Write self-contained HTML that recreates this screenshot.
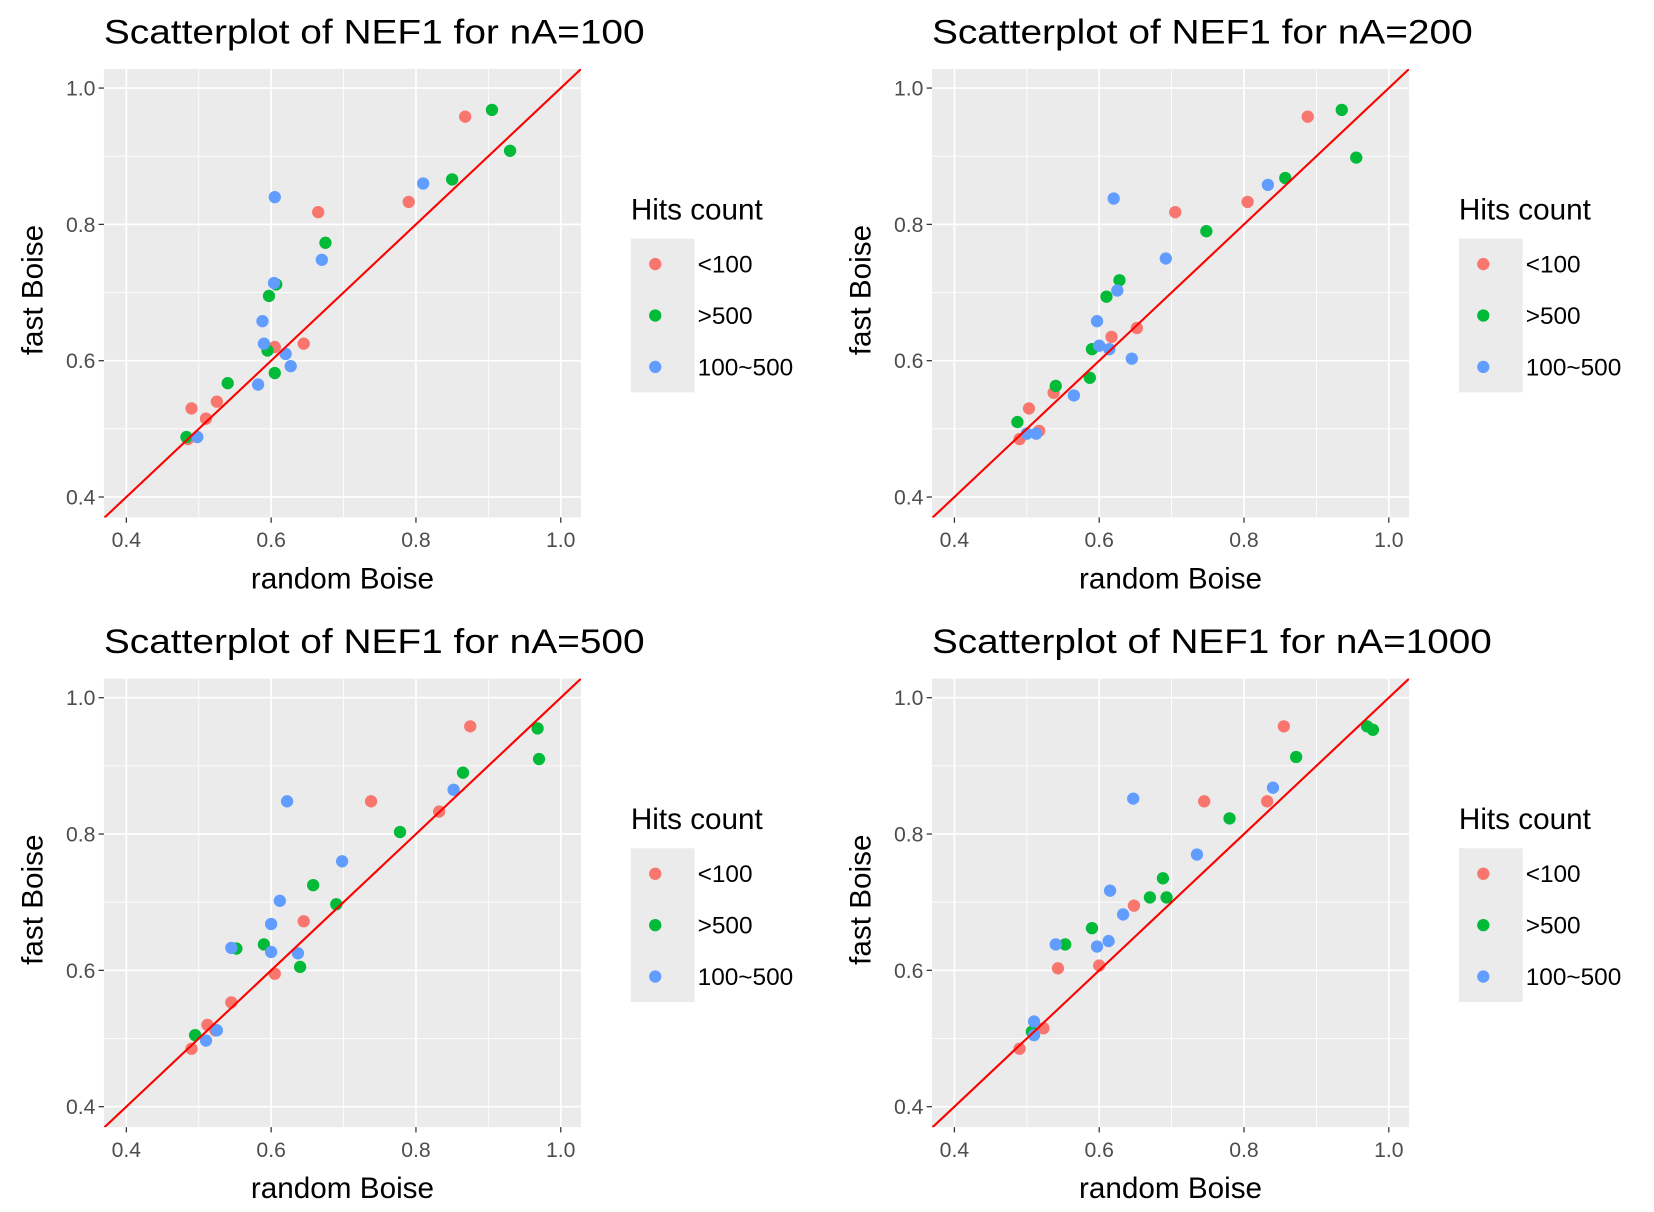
<!DOCTYPE html>
<html><head><meta charset="utf-8"><style>
html,body{margin:0;padding:0;background:#fff}
svg{display:block;font-family:"Liberation Sans",Arial,sans-serif}
</style></head><body>
<svg id="chart" width="1654" height="1212" viewBox="0 0 1560 1143" xmlns="http://www.w3.org/2000/svg"></svg>
<script>
const panelTitles = ["Scatterplot of NEF1 for nA=100","Scatterplot of NEF1 for nA=200","Scatterplot of NEF1 for nA=500","Scatterplot of NEF1 for nA=1000"];
const groups = ["<100", ">500", "100~500"];
const tickValues = [0.4, 0.6, 0.8, 1.0];
const tickLabels = ["0.4", "0.6", "0.8", "1.0"];
const minorTicks = [0.5, 0.7, 0.9];
const p1red = [[0.49,0.53],[0.51,0.515],[0.525,0.54],[0.485,0.485],[0.605,0.62],[0.645,0.625],[0.665,0.818],[0.79,0.833],[0.868,0.958]];
const p1green = [[0.483,0.488],[0.54,0.567],[0.595,0.615],[0.605,0.582],[0.597,0.695],[0.607,0.712],[0.675,0.773],[0.85,0.866],[0.905,0.968],[0.93,0.908]];
const p1blue = [[0.498,0.488],[0.582,0.565],[0.59,0.625],[0.588,0.658],[0.604,0.714],[0.62,0.61],[0.627,0.592],[0.605,0.84],[0.67,0.748],[0.81,0.86]];
const p2red = [[0.49,0.485],[0.503,0.53],[0.517,0.497],[0.537,0.553],[0.617,0.635],[0.652,0.648],[0.705,0.818],[0.805,0.833],[0.888,0.958]];
const p2green = [[0.487,0.51],[0.54,0.563],[0.587,0.575],[0.59,0.617],[0.61,0.694],[0.628,0.718],[0.748,0.79],[0.857,0.868],[0.935,0.968],[0.955,0.898]];
const p2blue = [[0.5,0.493],[0.513,0.493],[0.565,0.549],[0.597,0.658],[0.6,0.622],[0.614,0.617],[0.62,0.838],[0.625,0.703],[0.645,0.603],[0.692,0.75],[0.833,0.858]];
const p3red = [[0.49,0.485],[0.512,0.52],[0.523,0.512],[0.545,0.553],[0.605,0.595],[0.645,0.672],[0.738,0.848],[0.832,0.833],[0.875,0.958]];
const p3green = [[0.495,0.505],[0.552,0.632],[0.59,0.638],[0.64,0.605],[0.658,0.725],[0.69,0.697],[0.778,0.803],[0.865,0.89],[0.968,0.955],[0.97,0.91]];
const p3blue = [[0.51,0.497],[0.525,0.512],[0.545,0.633],[0.6,0.668],[0.6,0.627],[0.612,0.702],[0.622,0.848],[0.637,0.625],[0.698,0.76],[0.852,0.865]];
const p4red = [[0.49,0.485],[0.523,0.515],[0.543,0.603],[0.6,0.607],[0.648,0.695],[0.745,0.848],[0.832,0.848],[0.855,0.958]];
const p4green = [[0.507,0.51],[0.553,0.638],[0.59,0.662],[0.67,0.707],[0.688,0.735],[0.693,0.707],[0.78,0.823],[0.872,0.913],[0.97,0.958],[0.978,0.953]];
const p4blue = [[0.51,0.505],[0.51,0.525],[0.54,0.638],[0.597,0.635],[0.613,0.643],[0.615,0.717],[0.633,0.682],[0.647,0.852],[0.735,0.77],[0.84,0.868]];
const panelData = [[p1red,p1green,p1blue],[p2red,p2green,p2blue],[p3red,p3green,p3blue],[p4red,p4green,p4blue]];

const colors = ["#F8766D","#00BA38","#619CFF"];
const NS = "http://www.w3.org/2000/svg";
const svg = document.getElementById("chart");
function mk(tag, attrs, parent){const e=document.createElementNS(NS,tag);for(const k in attrs)e.setAttribute(k,attrs[k]);(parent||svg).appendChild(e);return e;}
const XMIN=0.369, XMAX=1.028, YMIN=0.370, YMAX=1.028;
const PW=450, PH=423;
const offsets=[[0,0],[781,0],[0,575],[781,575]];
panelData.forEach((series,pi)=>{
  const ox=offsets[pi][0], oy=offsets[pi][1];
  const L=98+ox, T=65+oy;
  const sx=v=>L+(v-XMIN)/(XMAX-XMIN)*PW;
  const sy=v=>T+PH-(v-YMIN)/(YMAX-YMIN)*PH;
  const g=mk("g",{});
  
  
  const t=mk("text",{x:L,y:41+oy,"font-size":32,fill:"#000",textLength:pi===3?528:510,lengthAdjust:"spacingAndGlyphs"},g);t.textContent=panelTitles[pi];
  
  
  const bg=mk("rect",{x:L,y:T,width:PW,height:PH,fill:"#EBEBEB"},g);
  
  
  minorTicks.forEach(v=>{
    mk("line",{x1:sx(v),x2:sx(v),y1:T,y2:T+PH,stroke:"#fff","stroke-width":0.8},g);
    mk("line",{x1:L,x2:L+PW,y1:sy(v),y2:sy(v),stroke:"#fff","stroke-width":0.8},g);
  });
  tickValues.forEach((v,i)=>{
    mk("line",{x1:sx(v),x2:sx(v),y1:T,y2:T+PH,stroke:"#fff","stroke-width":1.6},g);
    mk("line",{x1:L,x2:L+PW,y1:sy(v),y2:sy(v),stroke:"#fff","stroke-width":1.6},g);
    mk("line",{x1:sx(v),x2:sx(v),y1:T+PH,y2:T+PH+5,stroke:"#333","stroke-width":1.2},g);
    mk("line",{x1:L-5,x2:L,y1:sy(v),y2:sy(v),stroke:"#333","stroke-width":1.2},g);
    const xl=mk("text",{x:sx(v),y:T+PH+28,"font-size":20,fill:"#4D4D4D","text-anchor":"middle"},g);xl.textContent=tickLabels[i];
    
    
    const yl=mk("text",{x:L-8,y:sy(v)+7,"font-size":20,fill:"#4D4D4D","text-anchor":"end"},g);yl.textContent=tickLabels[i];
    
    
  });
  const xa=mk("text",{x:L+PW/2,y:T+PH+67,"font-size":28,fill:"#000","text-anchor":"middle"},g);xa.textContent="random Boise";
  
  
  const ya=mk("text",{x:0,y:0,"font-size":28,fill:"#000","text-anchor":"middle",transform:`translate(${40+ox},${T+PH/2-3}) rotate(-90)`},g);ya.textContent="fast Boise";
  
  
  const cp=mk("clipPath",{id:"cp"+pi},g);mk("rect",{x:L,y:T,width:PW,height:PH},cp);
  const pts=mk("g",{"clip-path":`url(#cp${pi})`},g);
  series.forEach((arr,si)=>{arr.forEach(p=>{
    const c=mk("circle",{cx:sx(p[0]),cy:sy(p[1]),r:5.8,fill:colors[si]},pts);
    
    
  });});
  const rl=mk("line",{x1:sx(XMIN),y1:sy(XMIN),x2:sx(XMAX),y2:sy(XMAX),stroke:"#FF0000","stroke-width":2},pts);
  
  
  const lt=mk("text",{x:595+ox,y:207+oy,"font-size":28,fill:"#000"},g);lt.textContent="Hits count";
  
  
  mk("rect",{x:595+ox,y:225+oy,width:60,height:145,fill:"#EBEBEB"},g);
  groups.forEach((gname,gi)=>{
    const cy=249+gi*48.5+oy;
    const e=mk("g",{},g);
    
    
    mk("circle",{cx:618+ox,cy:cy,r:5.8,fill:colors[gi]},e);
    const lx=mk("text",{x:658+ox,y:cy+8,"font-size":23,fill:"#000"},e);lx.textContent=gname;
  });
});
</script>
</body></html>
